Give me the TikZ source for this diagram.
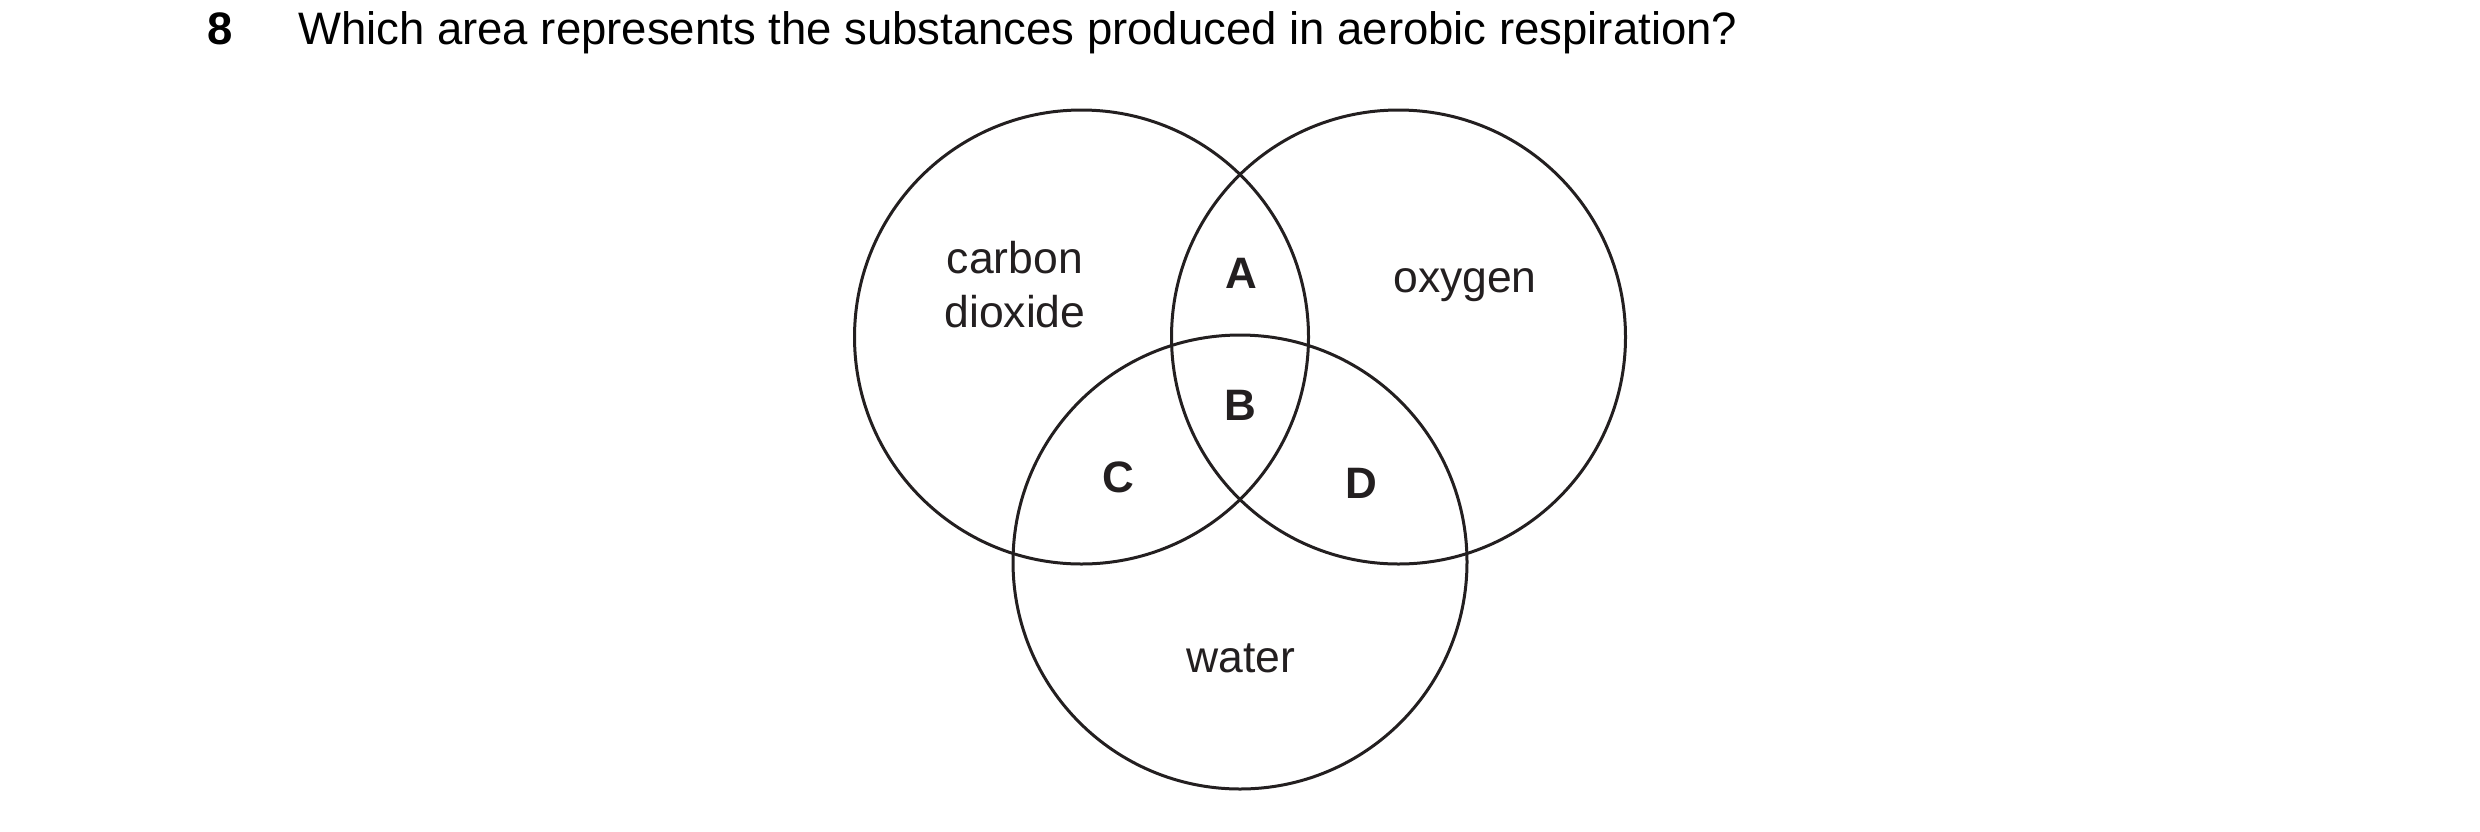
\documentclass[tikz,border=0pt]{standalone}
\usepackage{fontspec}
\setmainfont{Liberation Sans}
\definecolor{ink}{HTML}{231F20}
\begin{document}
\begin{tikzpicture}[x=1pt,y=-1pt,
  set/.style={draw=ink, line width=3pt, circle, minimum size=454pt, inner sep=0pt},
  lab/.style={anchor=base, inner sep=0pt, text=ink, font=\fontsize{44.5}{53}\selectfont},
  letter/.style={anchor=base, inner sep=0pt, text=ink, font=\bfseries\fontsize{44}{53}\selectfont},
  title/.style={anchor=base west, inner sep=0pt, text=black, font=\fontsize{45.5}{54}\selectfont}]
\useasboundingbox (0,0) rectangle (2480,831);
\node[title, font=\bfseries\fontsize{45.5}{54}\selectfont] (qnum) at (207,44) {8};
\node[title] (question) at (298,44) {Which area represents the substances produced in aerobic respiration?};
\node[set] (co2) at (1081.5,337) {};
\node[set] (oxy) at (1398.5,337) {};
\node[set] (wat) at (1240,562) {};
\node[lab] (carbon) at (1015,273) {carbon};
\node[lab] (dioxide) at (1015,327) {dioxide};
\node[lab] (oxygen) at (1465,292) {oxygen};
\node[lab] (water) at (1241,672) {water};
\node[letter] (A) at (1241,288) {A};
\node[letter] (B) at (1240,420) {B};
\node[letter] (C) at (1118,492) {C};
\node[letter] (D) at (1361,498) {D};
\end{tikzpicture}
\end{document}
